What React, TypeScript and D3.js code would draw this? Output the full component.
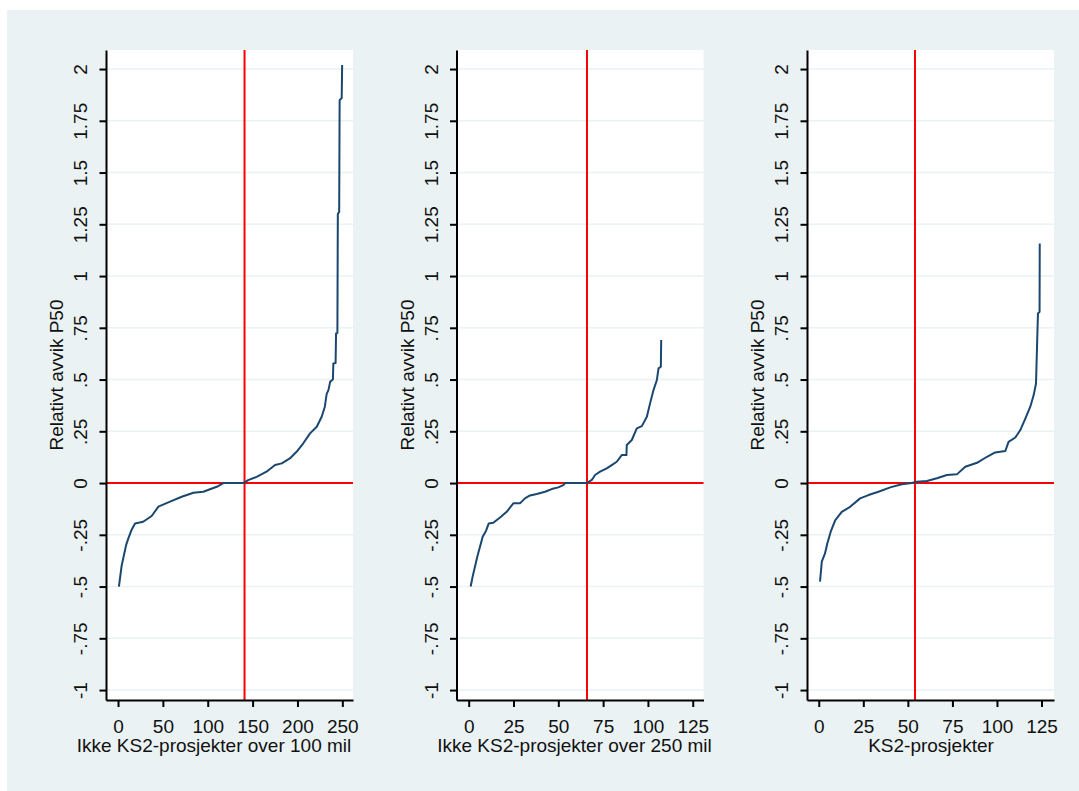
import { useEffect, useRef } from 'react';
import * as d3 from 'd3';

// y axis (shared by all three panels)
const yTicks = [2, 1.75, 1.5, 1.25, 1, 0.75, 0.5, 0.25, 0, -0.25, -0.5, -0.75, -1];
const yTickLabels = ['2', '1.75', '1.5', '1.25', '1', '.75', '.5', '.25', '0', '-.25', '-.5', '-.75', '-1'];
const yTitle = 'Relativt avvik P50';

// x ticks per panel
const xTicks1 = [0, 50, 100, 150, 200, 250];
const xTicks2 = [0, 25, 50, 75, 100, 125];
const xTicks3 = [0, 25, 50, 75, 100, 125];

const xTitles = [
  'Ikke KS2-prosjekter over 100 mil',
  'Ikke KS2-prosjekter over 250 mil',
  'KS2-prosjekter',
];

// red reference line (rank of median)
const medians = [141, 66, 54];

// sorted deviations: rank and value
const rank1 = [1, 4, 7, 9, 11.5, 15, 19, 28, 37.5, 45, 58, 71, 84, 95, 102.5, 110, 117.5, 140, 145, 154.5, 165.5, 175, 182.5, 191.5, 199, 206.5, 214, 221.5, 227, 230.5, 232.5, 234.5, 236.5, 239.5, 240, 242.5, 243, 244.5, 245, 246.5, 247, 249.3, 249.8];
const value1 = [-0.5, -0.4, -0.34, -0.3, -0.267, -0.227, -0.195, -0.187, -0.159, -0.114, -0.09, -0.066, -0.047, -0.042, -0.03, -0.018, 0, 0, 0.014, 0.03, 0.055, 0.087, 0.095, 0.119, 0.151, 0.192, 0.24, 0.272, 0.32, 0.369, 0.43, 0.449, 0.49, 0.5, 0.578, 0.58, 0.723, 0.725, 1.3, 1.31, 1.85, 1.86, 2.02];

const rank2 = [1.1, 2.2, 3.5, 4.8, 6.3, 7.8, 9.7, 11.2, 13.7, 17.5, 21.2, 24.9, 28.6, 31.4, 34.2, 38, 42.6, 46.3, 50, 52.8, 53.8, 65.9, 68.7, 70.5, 73.3, 77, 79.8, 82.6, 85.4, 88, 88.2, 91, 93.8, 96.6, 99.4, 101.2, 103.1, 105, 105.9, 107.2, 107.4];
const value2 = [-0.5, -0.452, -0.404, -0.356, -0.308, -0.259, -0.23, -0.195, -0.192, -0.166, -0.139, -0.098, -0.098, -0.074, -0.06, -0.053, -0.042, -0.029, -0.021, -0.01, 0, 0, 0.015, 0.039, 0.055, 0.071, 0.087, 0.103, 0.135, 0.135, 0.184, 0.208, 0.264, 0.275, 0.32, 0.385, 0.449, 0.498, 0.554, 0.562, 0.691];

const rank3 = [0.7, 1.7, 3.5, 4.8, 6.7, 9.2, 12.9, 17.6, 23.2, 27.9, 33.5, 40.1, 46.6, 52.2, 55, 60.7, 66.3, 71.9, 77.5, 82.2, 88.8, 94.4, 99, 104.7, 106.5, 110.3, 113.1, 115.9, 118.7, 120.6, 121.9, 123, 123.9, 124];
const value3 = [-0.476, -0.38, -0.34, -0.292, -0.235, -0.18, -0.139, -0.115, -0.074, -0.058, -0.042, -0.021, -0.006, 0, 0.006, 0.01, 0.023, 0.039, 0.042, 0.079, 0.098, 0.127, 0.148, 0.155, 0.199, 0.22, 0.256, 0.311, 0.369, 0.425, 0.481, 0.819, 0.827, 1.157];

const panels = [
  { ranks: rank1, values: value1, xTicks: xTicks1, xDomain: [-13.4, 261.9], left: 106, titleX: 108 },
  { ranks: rank2, values: value2, xTicks: xTicks2, xDomain: [-6.8, 131], left: 456.5, titleX: 118 },
  { ranks: rank3, values: value3, xTicks: xTicks3, xDomain: [-6.6, 132], left: 807, titleX: 124 },
];

const W = 1079;
const H = 791;
const BG = '#eaf2f3';
const FONT = '"Liberation Sans", Arial, sans-serif';

export default function App() {
  const ref = useRef<SVGSVGElement>(null);

  useEffect(() => {
    const svg = d3.select(ref.current);
    svg.selectAll('*').remove();

    svg.append('rect')
      .attr('x', 7).attr('y', 10)
      .attr('width', W - 7).attr('height', H - 10)
      .attr('fill', BG);

    const top = 50;
    const bottom = 700;
    const pw = 247;

    const y = d3.scaleLinear().domain([2.092, -1.048]).range([top, bottom]);

    panels.forEach((p, i) => {
      const x = d3.scaleLinear().domain(p.xDomain).range([p.left, p.left + pw]);
      const g = svg.append('g');

      // plot region
      g.append('rect')
        .attr('x', p.left).attr('y', top)
        .attr('width', pw).attr('height', bottom - top)
        .attr('fill', '#fff');

      // gridlines
      g.selectAll('.grid')
        .data(yTicks)
        .join('line')
        .attr('x1', p.left).attr('x2', p.left + pw)
        .attr('y1', d => y(d)).attr('y2', d => y(d))
        .attr('stroke', BG)
        .attr('stroke-width', 1.5);

      // reference lines
      g.append('line')
        .attr('x1', p.left).attr('x2', p.left + pw)
        .attr('y1', y(0)).attr('y2', y(0))
        .attr('stroke', '#ff0000').attr('stroke-width', 2);
      g.append('line')
        .attr('x1', x(medians[i])).attr('x2', x(medians[i]))
        .attr('y1', top).attr('y2', bottom)
        .attr('stroke', '#ff0000').attr('stroke-width', 2);

      // curve
      const pts = p.ranks.map((r, k) => [r, p.values[k]] as [number, number]);
      const line = d3.line<[number, number]>()
        .x(d => x(d[0]))
        .y(d => y(d[1]));
      g.append('path')
        .datum(pts)
        .attr('fill', 'none')
        .attr('stroke', '#1a476f')
        .attr('stroke-width', 2)
        .attr('stroke-linejoin', 'round')
        .attr('d', line);

      // y axis
      const ya = g.append('g')
        .attr('transform', `translate(${p.left},0)`)
        .call(d3.axisLeft(y).tickValues(yTicks).tickSize(6.5).tickSizeOuter(0)
          .tickFormat((_, k) => yTickLabels[k]));
      ya.select('.domain').attr('stroke', '#000').attr('stroke-width', 2);
      ya.selectAll('.tick line').attr('stroke', '#000').attr('stroke-width', 2);
      ya.selectAll('.tick text')
        .attr('x', null).attr('dy', null)
        .attr('transform', 'translate(-19,0) rotate(-90)')
        .attr('text-anchor', 'middle')
        .attr('fill', '#111')
        .style('font-family', FONT)
        .style('font-size', '19px');

      g.append('text')
        .attr('transform', `translate(${p.left - 43},${(top + bottom) / 2}) rotate(-90)`)
        .attr('text-anchor', 'middle')
        .attr('fill', '#111')
        .style('font-family', FONT)
        .style('font-size', '19px')
        .text(yTitle);

      // x axis
      const xa = g.append('g')
        .attr('transform', `translate(0,${bottom})`)
        .call(d3.axisBottom(x).tickValues(p.xTicks).tickSize(7).tickSizeOuter(0));
      xa.select('.domain').attr('stroke', '#000').attr('stroke-width', 2);
      xa.selectAll('.tick line').attr('stroke', '#000').attr('stroke-width', 2);
      xa.selectAll('.tick text')
        .attr('y', 32.5).attr('dy', null)
        .attr('fill', '#111')
        .style('font-family', FONT)
        .style('font-size', '19px');

      g.append('text')
        .attr('x', p.left + p.titleX).attr('y', 752)
        .attr('text-anchor', 'middle')
        .attr('fill', '#111')
        .style('font-family', FONT)
        .style('font-size', '19px')
        .text(xTitles[i]);
    });
  }, []);

  return (
    <svg
      ref={ref}
      width={W}
      height={H}
      style={{ position: 'absolute', left: 0, top: 0, display: 'block' }}
    />
  );
}
